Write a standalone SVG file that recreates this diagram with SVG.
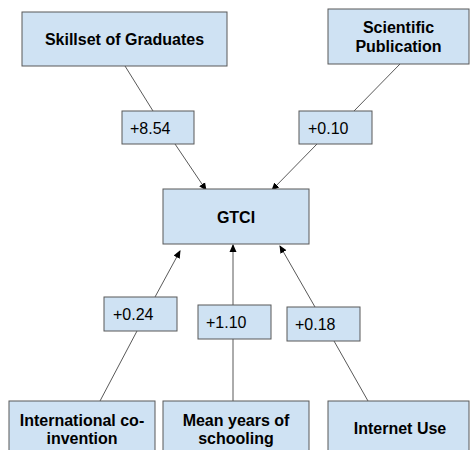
<svg xmlns="http://www.w3.org/2000/svg" width="470" height="450" viewBox="0 0 470 450">
<style>
.box{fill:#cfe2f3;stroke:#595959;stroke-width:1}
.t{font-family:"Liberation Sans",Arial,sans-serif;font-size:16px;font-weight:bold;fill:#000;text-anchor:middle}
.l{font-family:"Liberation Sans",Arial,sans-serif;font-size:16px;fill:#000}
.c{stroke:#595959;stroke-width:1;fill:none}
</style>
<defs>
<marker id="ah" markerWidth="8" markerHeight="8" refX="7" refY="4" orient="auto" markerUnits="userSpaceOnUse">
<path d="M0,0.5 L8,4 L0,7.5 Z" fill="#000"/>
</marker>
</defs>
<rect width="470" height="450" fill="#fff"/>
<g id="connectors">
<line class="c" x1="125" y1="66" x2="153" y2="111"/>
<line class="c" x1="175" y1="144" x2="206" y2="190" marker-end="url(#ah)"/>
<line class="c" x1="400" y1="64" x2="354" y2="111"/>
<line class="c" x1="317" y1="144" x2="272" y2="190" marker-end="url(#ah)"/>
<line class="c" x1="100" y1="401" x2="137" y2="331"/>
<line class="c" x1="155" y1="297" x2="180" y2="251" marker-end="url(#ah)"/>
<line class="c" x1="233" y1="401" x2="233" y2="339"/>
<line class="c" x1="233" y1="305" x2="233" y2="245" marker-end="url(#ah)"/>
<line class="c" x1="368" y1="401" x2="334" y2="341"/>
<line class="c" x1="315" y1="307" x2="280" y2="246" marker-end="url(#ah)"/>
</g>
<g id="skillset">
<rect class="box" x="22" y="12" width="205" height="54"/>
<text class="t" x="124.5" y="45">Skillset of Graduates</text>
</g>
<g id="scientific">
<rect class="box" x="328" y="9" width="141" height="55"/>
<text class="t" x="398.5" y="33">Scientific</text>
<text class="t" x="398.5" y="52">Publication</text>
</g>
<g id="gtci">
<rect class="box" x="163" y="189" width="146" height="55"/>
<text class="t" x="236" y="223">GTCI</text>
</g>
<g id="lbl854">
<rect class="box" x="122" y="111" width="72" height="33"/>
<text class="l" x="130" y="134">+8.54</text>
</g>
<g id="lbl010">
<rect class="box" x="299" y="111" width="73" height="33"/>
<text class="l" x="308" y="134">+0.10</text>
</g>
<g id="lbl024">
<rect class="box" x="104" y="297" width="73" height="34"/>
<text class="l" x="113" y="320">+0.24</text>
</g>
<g id="lbl110">
<rect class="box" x="198" y="305" width="73" height="34"/>
<text class="l" x="206" y="328">+1.10</text>
</g>
<g id="lbl018">
<rect class="box" x="287" y="307" width="73" height="34"/>
<text class="l" x="295" y="330">+0.18</text>
</g>
<g id="international">
<rect class="box" x="9" y="401" width="146" height="60"/>
<text class="t" x="82" y="426">International co-</text>
<text class="t" x="82" y="444">invention</text>
</g>
<g id="meanyears">
<rect class="box" x="163" y="401" width="146" height="60"/>
<text class="t" x="236" y="426">Mean years of</text>
<text class="t" x="236" y="444">schooling</text>
</g>
<g id="internet">
<rect class="box" x="328" y="401" width="141" height="60"/>
<text class="t" x="400" y="434">Internet Use</text>
</g>
</svg>
